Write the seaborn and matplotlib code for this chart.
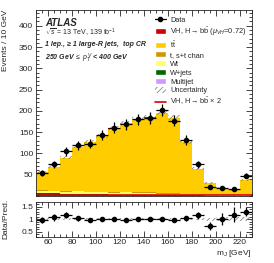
import numpy as np
import pandas as pd
import matplotlib.pyplot as plt
import seaborn as sns
from matplotlib.lines import Line2D
from matplotlib.patches import Patch
from matplotlib.ticker import MultipleLocator

bin_edges = [50, 60, 70, 80, 90, 100, 110, 120, 130, 140, 150, 160, 170, 180, 190, 200, 210, 220, 230]
data = [54, 74, 105, 119, 123, 143, 160, 168, 180, 183, 201, 177, 131, 74, 22, 19, 16, 48]

# stack components, bottom to top
multijet = [0.5, 0.5, 0.5, 0.5, 0.4, 0.4, 0.3, 0.3, 0.3, 0.3, 0.3, 0.3, 0.2, 0.2, 0.1, 0.1, 0.1, 0.1]
wjets = [7, 6, 5, 5, 4, 4, 3, 3, 2, 2, 1.5, 1.5, 1, 1, 0.5, 0.5, 0.5, 0.5]
wt = [4, 4, 4, 5, 4, 4, 4, 5, 4, 4, 3.5, 3, 1, 1, 0.5, 0.5, 0.5, 1]
stop = [2, 2, 2, 2, 2, 2, 2, 2, 2, 2, 2, 2, 1, 1, 0.5, 0.5, 0.3, 0.5]
ttbar = [42, 56, 78, 102, 116, 130, 149, 160, 172, 176, 188, 177, 123.5, 60.5, 28, 17, 12, 34.5]
vh = [0.5, 0.5, 0.5, 0.5, 0.5, 0.5, 0.5, 0.5, 0.5, 0.5, 0.5, 0.2, 0.3, 0.3, 0.4, 0.4, 0.1, 0.4]
vh_x2 = [1.6, 1.6, 1.6, 1.6, 1.6, 1.6, 1.6, 1.6, 1.6, 1.6, 1.6, 1.5, 1.4, 1.3, 1.2, 1.2, 1.2, 1.2]
rel_unc = [0.05, 0.04, 0.04, 0.03, 0.03, 0.03, 0.03, 0.03, 0.03, 0.03, 0.03, 0.03, 0.04, 0.05, 0.06, 0.07, 0.08, 0.07]

layers = [('Multijet', multijet, '#cc99ff'),
          ('W+jets', wjets, '#006600'),
          ('Wt', wt, '#ffff66'),
          ('t, s+t chan', stop, '#cc9900'),
          ('ttbar', ttbar, '#ffcc00'),
          ('VH', vh, '#cc0000')]

edges = np.array(bin_edges, dtype=float)
centers = 0.5 * (edges[1:] + edges[:-1])
widths = np.diff(edges)
data = np.array(data, dtype=float)
cum = np.cumsum([np.array(l[1], dtype=float) for l in layers], axis=0)
mc = cum[-1]
unc = mc * np.array(rel_unc)

sns.set_style('ticks')
plt.rcParams['font.family'] = ['Liberation Sans', 'DejaVu Sans']
plt.rcParams['mathtext.fontset'] = 'custom'
plt.rcParams['mathtext.rm'] = 'Liberation Sans'
plt.rcParams['mathtext.it'] = 'Liberation Sans:italic'
plt.rcParams['mathtext.bf'] = 'Liberation Sans:bold'
plt.rcParams['hatch.linewidth'] = 0.6
plt.rcParams['hatch.color'] = '#888888'

fig = plt.figure(figsize=(2.74, 2.63), dpi=100)
ax = fig.add_axes([0.131, 0.255, 0.788, 0.707])
rax = fig.add_axes([0.131, 0.100, 0.788, 0.133], sharex=ax)

# draw cumulative layers from the top down so they look stacked
for i in range(len(layers) - 1, -1, -1):
    df = pd.DataFrame({'mJ': centers, 'w': cum[i]})
    sns.histplot(data=df, x='mJ', weights='w', bins=list(bin_edges), element='step', fill=True,
                 color=layers[i][2], alpha=1, linewidth=0, ax=ax)

ax.bar(centers, 2 * unc, bottom=mc - unc, width=widths, fill=False, hatch='//////',
       edgecolor='#888888', linewidth=0)
ax.stairs(vh_x2, edges, color='#dd0000', linewidth=1.2)
ax.errorbar(centers, data, yerr=np.sqrt(data), xerr=widths / 2, fmt='o', color='black',
            ms=3, elinewidth=0.9, capsize=0)

ax.set_xlim(50, 230)
ax.set_ylim(0, 437)
ax.set_xlabel('')
ax.set_ylabel('Events / 10 GeV', fontsize=6, loc='top')
ax.yaxis.set_label_coords(-0.125, 1.0)
ax.yaxis.set_major_locator(MultipleLocator(50))
ax.yaxis.set_minor_locator(MultipleLocator(10))
ax.xaxis.set_major_locator(MultipleLocator(20))
ax.xaxis.set_minor_locator(MultipleLocator(5))
ax.tick_params(which='both', direction='in', top=True, right=True, labelsize=6, pad=2, width=0.6)
ax.tick_params(which='major', length=4)
ax.tick_params(which='minor', length=2)
ax.tick_params(axis='x', labelbottom=False)
ax.set_yticks([50, 100, 150, 200, 250, 300, 350, 400])

ax.text(0.042, 0.932, 'ATLAS', transform=ax.transAxes, fontsize=7, fontweight='bold',
        style='italic', va='center')
ax.text(0.042, 0.875, r'$\sqrt{s}$ = 13 TeV, 139 fb$^{-1}$', transform=ax.transAxes,
        fontsize=5, va='center')
ax.text(0.042, 0.812, '1 lep., \u2265 1 large-R jets,  top CR', transform=ax.transAxes,
        fontsize=5, fontweight='bold', style='italic', va='center')
ax.text(0.042, 0.742, r'250 GeV $\leq$ $p_{T}^{V}$ < 400 GeV', transform=ax.transAxes,
        fontsize=5, fontweight='bold', style='italic', va='center')

handles = [
    Line2D([], [], color='black', marker='o', ms=3, lw=0.9),
    Patch(facecolor='#cc0000'),
    Patch(facecolor='#ffcc00'),
    Patch(facecolor='#cc9900'),
    Patch(facecolor='#ffff66'),
    Patch(facecolor='#006600'),
    Patch(facecolor='#cc99ff'),
    Patch(facecolor='white', hatch='//////', edgecolor='#888888', linewidth=0),
    Line2D([], [], color='#dd0000', lw=1.2),
]
labels = ['Data',
          r'VH, H$\rightarrow$b$\bar{\mathrm{b}}$ ($\mu_{VH}$=0.72)',
          r't$\bar{\mathrm{t}}$',
          't, s+t chan',
          'Wt',
          'W+jets',
          'Multijet',
          'Uncertainty',
          r'VH, H$\rightarrow$b$\bar{\mathrm{b}}$ $\times$ 2']
ax.legend(handles, labels, loc='upper left', bbox_to_anchor=(0.552, 0.965), frameon=False,
          fontsize=5.3, labelspacing=0.2, handlelength=1.45, handleheight=0.85,
          handletextpad=0.6, borderpad=0, borderaxespad=0)

# ratio panel
ratio = data / mc
rax.bar(centers, 2 * np.array(rel_unc), bottom=1 - np.array(rel_unc), width=widths, fill=False,
        hatch='//////', edgecolor='#888888', linewidth=0)
rax.errorbar(centers, ratio, yerr=np.sqrt(data) / mc, xerr=widths / 2, fmt='o', color='black',
             ms=3, elinewidth=0.9, capsize=0)
rax.set_ylim(0.3, 1.7)
rax.set_yticks([0.5, 1, 1.5])
rax.set_yticklabels(['0.5', '1', '1.5'])
rax.yaxis.set_minor_locator(MultipleLocator(0.1))
rax.set_ylabel('Data/Pred.', fontsize=6)
rax.yaxis.set_label_coords(-0.125, 0.5)
rax.set_xlabel(r'm$_{\mathrm{J}}$ [GeV]', fontsize=6, loc='right')
rax.xaxis.set_label_coords(1.0, -0.33)
rax.tick_params(which='both', direction='in', top=True, right=True, labelsize=6, pad=2, width=0.6)
rax.tick_params(which='major', length=4)
rax.tick_params(which='minor', length=2)
rax.set_xticks([60, 80, 100, 120, 140, 160, 180, 200, 220])
rax.set_xlim(50, 230)

for a in (ax, rax):
    for s in a.spines.values():
        s.set_linewidth(0.6)

plt.savefig('out.png', dpi=100)
